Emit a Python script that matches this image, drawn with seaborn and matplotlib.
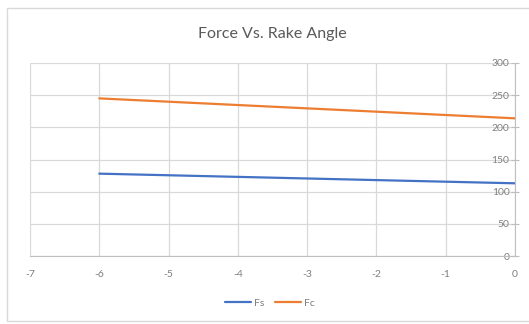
import matplotlib
matplotlib.use("Agg")
import matplotlib.pyplot as plt
import seaborn as sns
import pandas as pd
from matplotlib.patches import Rectangle

# Rake angle (degrees) and the two force components
rake_angle = [-6, 0]
fs_values = [128, 113]
fc_values = [245, 214]
series_names = ["Fs", "Fc"]
series_colors = ["#4472C4", "#ED7D31"]
x_ticks = [-7, -6, -5, -4, -3, -2, -1, 0]
y_ticks = [0, 50, 100, 150, 200, 250, 300]

df = pd.DataFrame({
    "Rake Angle": rake_angle * 2,
    "Force": fs_values + fc_values,
    "Series": [series_names[0]] * len(rake_angle) + [series_names[1]] * len(rake_angle),
})

sns.set_style("white")
plt.rcParams["font.family"] = ["Lato", "DejaVu Sans"]

fig = plt.figure(figsize=(5.29, 3.24), dpi=100)
ax = fig.add_axes([30 / 529, 1 - 256 / 324, (515 - 30) / 529, (256 - 63) / 324])

# Chart frame
fig.patches.append(Rectangle((7 / 529, 1 - 321 / 324), 1.2, (321 - 8) / 324,
                             transform=fig.transFigure, fill=False,
                             edgecolor="#D9D9D9", linewidth=1.0))

sns.lineplot(data=df, x="Rake Angle", y="Force", hue="Series",
             palette=dict(zip(series_names, series_colors)),
             linewidth=1.6, ax=ax, legend=False)

ax.set_xlim(-7, 0)
ax.set_ylim(0, 300)
ax.set_xticks(x_ticks)
ax.set_yticks(y_ticks)
ax.set_xticklabels([str(v) for v in x_ticks])
ax.set_yticklabels([str(v) for v in y_ticks])
ax.grid(True, color="#D9D9D9", linewidth=0.9)
ax.set_axisbelow(True)
ax.set_xlabel("")
ax.set_ylabel("")

# Value axis crosses at x = 0
ax.spines["left"].set_position(("data", 0))
ax.spines["left"].set_color("#BFBFBF")
ax.spines["bottom"].set_color("#BFBFBF")
ax.spines["top"].set_visible(False)
ax.spines["right"].set_visible(False)
ax.tick_params(axis="y", direction="inout", length=6, color="#BFBFBF",
               labelsize=7.5, labelcolor="#7F7F7F", pad=1, left=True)
ax.tick_params(axis="x", length=0, labelsize=7.5, labelcolor="#7F7F7F", pad=10)

ax.set_title("Force Vs. Rake Angle", fontsize=11.5, color="#595959", pad=18)

handles = [plt.Line2D([0], [0], color=c, linewidth=1.6) for c in series_colors]
fig.legend(handles, series_names, loc="center", bbox_to_anchor=(270 / 529, 1 - 303 / 324),
           ncol=2, frameon=False, fontsize=7.5, labelcolor="#7F7F7F",
           handlelength=2.5, columnspacing=1.0, handletextpad=0.3)

fig.savefig("out.png", dpi=100)
